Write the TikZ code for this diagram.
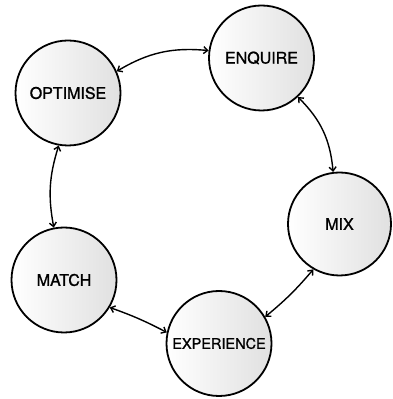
\documentclass[tikz,border=0pt]{standalone}
\usepackage{fontspec}
\setmainfont[FakeBold=1.2]{TeX Gyre Heros}
\usetikzlibrary{arrows.meta}
\begin{document}
\begin{tikzpicture}[x=1pt,y=1pt,
  stage/.style={circle, draw=black, line width=1.8pt, minimum size=105pt, inner sep=0pt,
    shading=axis, left color=white, right color=black!12, shading angle=90,
    font=\fontsize{16}{18}\selectfont},
  link/.style={line width=1.4pt, {Straight Barb[length=4pt,width=7pt]}-{Straight Barb[length=4pt,width=7pt]}}]
\useasboundingbox (0,0) rectangle (392,399);
\node[stage] (enq) at (261.5,341) {ENQUIRE};
\node[stage] (opt) at (68,306) {OPTIMISE};
\node[stage, minimum size=103pt] (mix) at (339.5,175) {MIX};
\node[stage] (mat) at (64,119) {MATCH};
\node[stage, font=\fontsize{14.5}{17}\selectfont] (exp) at (219,55.5) {EXPERIENCE};
\draw[link] (enq.172) to[bend right=18] (opt.24);
\draw[link] (enq.-47) to[bend left=20] (mix.97);
\draw[link] (mix.240) to[bend left=5] (exp.30);
\draw[link] (opt.260) to[bend right=14] (mat.101);
\draw[link] (mat.-31) to[bend left=4] (exp.168);
\end{tikzpicture}
\end{document}
